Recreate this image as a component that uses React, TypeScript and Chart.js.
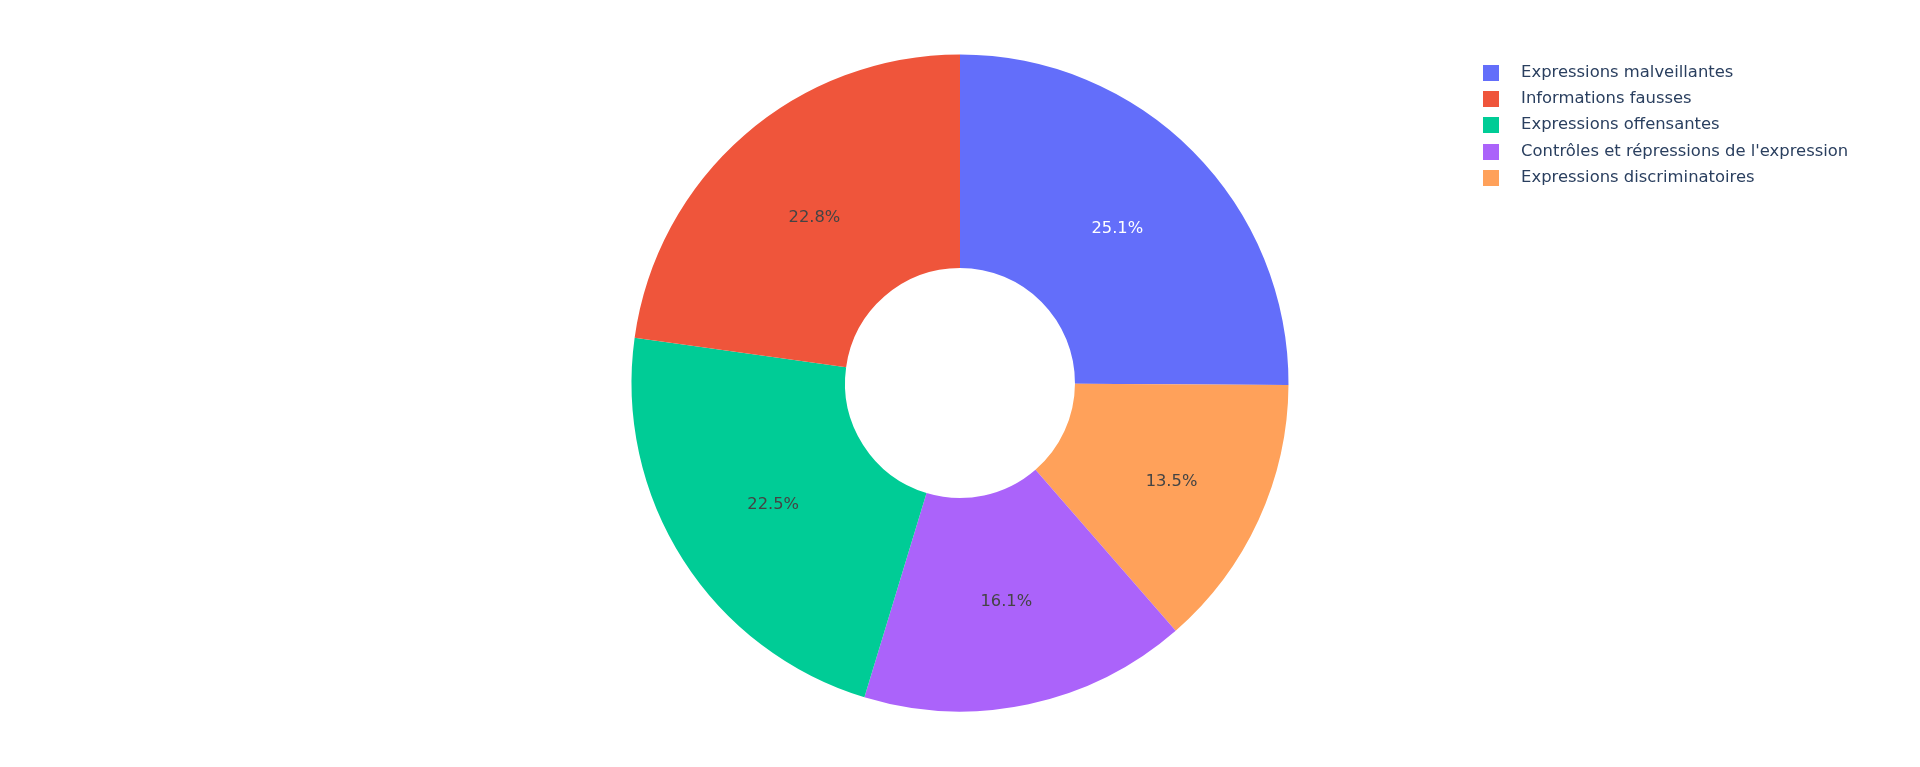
import React, { useEffect, useRef } from "react";
import { Chart, registerables } from "chart.js";

Chart.register(...registerables);

// Legend order (as in the reference)
const categories = [
  "Expressions malveillantes",
  "Informations fausses",
  "Expressions offensantes",
  "Contrôles et répressions de l'expression",
  "Expressions discriminatoires",
];
const shares = [25.1, 22.8, 22.5, 16.1, 13.5];
const colors = ["#636efa", "#EF553B", "#00cc96", "#ab63fa", "#FFA15A"];
const textColors = ["#ffffff", "#444444", "#444444", "#444444", "#444444"];
// Order of slices drawn clockwise from 12 o'clock
const clockwiseOrder = [0, 4, 3, 2, 1];

const FONT_FAMILY = "'DejaVu Sans', Verdana, sans-serif";
const LEGEND_FONT = 16.4;
const LABEL_FONT = 16.3;
const LEGEND_PAD = 9.9;
const SYMBOL_W = 43;
const CANVAS_W = 1920;
const CANVAS_H = 767;
const LEGEND_LEFT = 1460;
const PAD_LEFT = 460;
const PAD_TOP = 54.5;
const PAD_BOTTOM = 55.5;

function makeSwatch(color: string): HTMLCanvasElement {
  const c = document.createElement("canvas");
  c.width = 16;
  c.height = 16;
  const g = c.getContext("2d")!;
  g.fillStyle = color;
  g.fillRect(0, 0, 16, 16);
  return c;
}

// Label placed at the centre of the largest circle inscribed in each slice
const sliceLabels = {
  id: "sliceLabels",
  afterDatasetsDraw(chart: any) {
    const meta = chart.getDatasetMeta(0);
    const ds = chart.data.datasets[0];
    const total = (ds.data as number[]).reduce((a, b) => a + b, 0);
    const ctx = chart.ctx;
    ctx.save();
    ctx.font = `${LABEL_FONT}px ${FONT_FAMILY}`;
    ctx.textAlign = "center";
    ctx.textBaseline = "alphabetic";
    meta.data.forEach((arc: any, i: number) => {
      const { x, y, startAngle, endAngle, innerRadius, outerRadius } = arc.getProps(
        ["x", "y", "startAngle", "endAngle", "innerRadius", "outerRadius"],
        false
      );
      const theta = endAngle - startAngle;
      const hole = innerRadius / outerRadius;
      let rIns = (1 - hole) / 2;
      if (theta < Math.PI) {
        const s = Math.sin(theta / 2);
        rIns = Math.min(rIns, s / (1 + s));
      }
      const rad = outerRadius * (1 - rIns);
      const mid = (startAngle + endAngle) / 2;
      const v = ds.data[i] as number;
      ctx.fillStyle = ds.textColors[i];
      ctx.fillText(
        ((v / total) * 100).toFixed(1) + "%",
        x + Math.cos(mid) * rad,
        y + Math.sin(mid) * rad + LABEL_FONT * 0.39
      );
    });
    ctx.restore();
  },
};

export default function App() {
  const ref = useRef<HTMLCanvasElement | null>(null);

  useEffect(() => {
    if (!ref.current) return;
    const m = document.createElement("canvas").getContext("2d")!;
    m.font = `${LEGEND_FONT}px ${FONT_FAMILY}`;
    const maxText = Math.max(...categories.map((c) => m.measureText(c).width));
    // Chart.js adds 10px to the width of a vertical legend
    const legendWidth = LEGEND_PAD + SYMBOL_W + LEGEND_FONT / 2 + maxText + 10;
    const padRight = CANVAS_W - LEGEND_LEFT - legendWidth;

    const swatches = colors.map(makeSwatch);

    const chart = new Chart(ref.current, {
      type: "doughnut",
      data: {
        labels: clockwiseOrder.map((i) => categories[i]),
        datasets: [
          {
            data: clockwiseOrder.map((i) => shares[i]),
            backgroundColor: clockwiseOrder.map((i) => colors[i]),
            borderWidth: 0,
            textColors: clockwiseOrder.map((i) => textColors[i]),
          } as any,
        ],
      },
      options: {
        animation: false,
        responsive: true,
        maintainAspectRatio: false,
        cutout: "35%",
        rotation: 0,
        layout: {
          padding: { left: PAD_LEFT, right: padRight, top: PAD_TOP, bottom: PAD_BOTTOM },
        },
        plugins: {
          tooltip: { enabled: false },
          legend: {
            position: "right",
            align: "start",
            labels: {
              usePointStyle: true,
              pointStyleWidth: SYMBOL_W,
              padding: LEGEND_PAD,
              color: "#2a3f5f",
              font: { family: FONT_FAMILY, size: LEGEND_FONT },
              generateLabels: () =>
                categories.map((c, i) => ({
                  text: c,
                  fillStyle: colors[i],
                  strokeStyle: colors[i],
                  lineWidth: 0,
                  pointStyle: swatches[i],
                  hidden: false,
                  index: clockwiseOrder.indexOf(i),
                  fontColor: "#2a3f5f",
                })) as any,
            },
          },
        },
      },
      plugins: [sliceLabels],
    });
    return () => chart.destroy();
  }, []);

  return (
    <div style={{ position: "absolute", left: 0, top: 0, width: CANVAS_W, height: CANVAS_H, background: "#fff" }}>
      <canvas ref={ref} />
    </div>
  );
}
